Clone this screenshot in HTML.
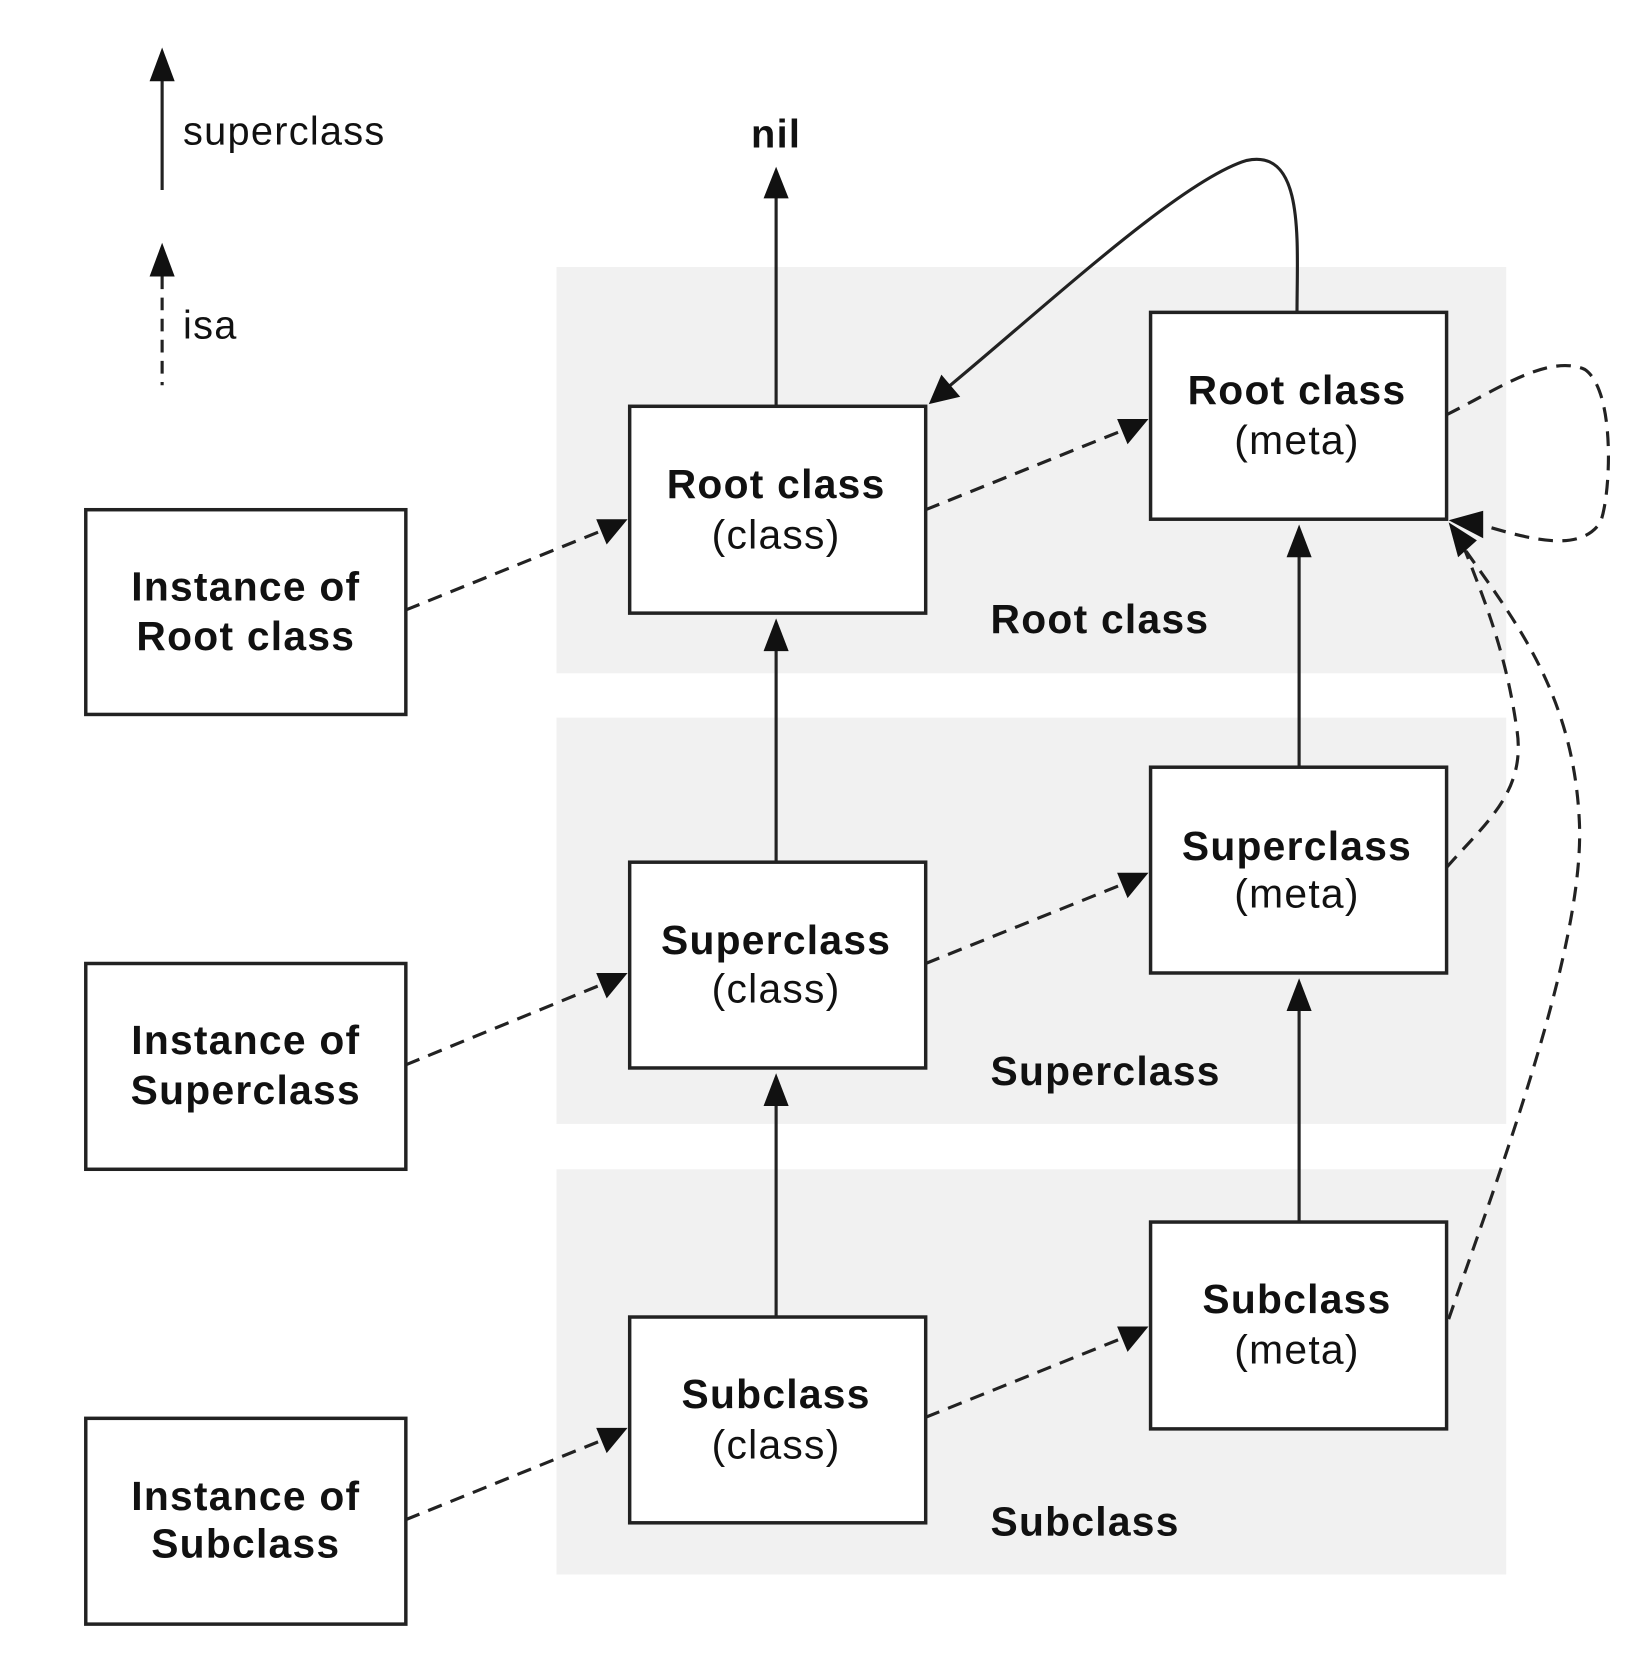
<!DOCTYPE html>
<html><head><meta charset="utf-8"><style>
html,body{margin:0;padding:0;background:#fff;}
svg{display:block;}
text{font-family:"Liberation Sans",Arial,sans-serif;fill:#111;letter-spacing:1.2px;}
.b{font-weight:bold;}
</style></head><body>
<svg width="1638" height="1660" viewBox="0 0 1566 1573" preserveAspectRatio="none" xmlns="http://www.w3.org/2000/svg">
<rect x="532" y="253" width="908" height="385" fill="#f1f1f1"/>
<rect x="532" y="680" width="908" height="385" fill="#f1f1f1"/>
<rect x="532" y="1108" width="908" height="384" fill="#f1f1f1"/>

<g stroke="#222" stroke-width="3" fill="none">
<line x1="155" y1="75" x2="155" y2="180"/>
<line x1="155" y1="262" x2="155" y2="365" stroke-dasharray="12,8"/>
<line x1="742" y1="385" x2="742" y2="185"/>
<line x1="742" y1="817" x2="742" y2="615"/>
<line x1="742" y1="1248" x2="742" y2="1046"/>
<line x1="1242" y1="727" x2="1242" y2="526"/>
<line x1="1242" y1="1158" x2="1242" y2="956"/>
<path d="M1240,296 C1240,230 1248,140 1192,152 C1130,170 1000,290 905,368"/>
<g stroke-dasharray="14,9">
<line x1="388" y1="578" x2="575" y2="503"/>
<line x1="388" y1="1009" x2="575" y2="933"/>
<line x1="388" y1="1440" x2="575" y2="1365"/>
<line x1="885" y1="483" x2="1073" y2="408"/>
<line x1="885" y1="913" x2="1073" y2="838"/>
<line x1="885" y1="1343" x2="1073" y2="1268"/>
<path d="M1383,393 C1430,370 1480,335 1515,350 C1545,370 1540,470 1530,495 C1510,525 1460,510 1415,497"/>
<path d="M1383,822 C1420,780 1460,750 1450,690 C1440,620 1420,570 1400,520"/>
<path d="M1385,1250 C1430,1120 1515,900 1510,780 C1505,660 1450,590 1400,520"/>
</g>
</g>
<g fill="#111">
<polygon points="155,45 143,77 167,77"/>
<polygon points="155,230 143,262 167,262"/>
<polygon points="742,158 730,188 754,188"/>
<polygon points="742,586 730,617 754,617"/>
<polygon points="742,1017 730,1048 754,1048"/>
<polygon points="1242,497 1230,528 1254,528"/>
<polygon points="1242,927 1230,958 1254,958"/>
<polygon points="888,383 900,355 918,376"/>
<polygon points="600,492 570,492 580,516"/>
<polygon points="600,922 570,922 580,946"/>
<polygon points="600,1353 570,1353 580,1377"/>
<polygon points="1098,397 1068,397 1078,421"/>
<polygon points="1098,827 1068,827 1078,851"/>
<polygon points="1098,1257 1068,1257 1078,1281"/>
<polygon points="1385,493 1418,484 1418,510"/>
<polygon points="1385,495 1412,512 1394,528"/>
</g>

<g fill="#fff" stroke="#222" stroke-width="3.3">
<rect x="82" y="483" width="306" height="194"/>
<rect x="82" y="913" width="306" height="195"/>
<rect x="82" y="1344" width="306" height="195"/>
<rect x="602" y="385" width="283" height="196"/>
<rect x="602" y="817" width="283" height="195"/>
<rect x="602" y="1248" width="283" height="195"/>
<rect x="1100" y="296" width="283" height="196"/>
<rect x="1100" y="727" width="283" height="195"/>
<rect x="1100" y="1158" width="283" height="196"/>
</g>

<text x="175" y="137" font-size="38">superclass</text>
<text x="175" y="321" font-size="38">isa</text>
<text x="742" y="140" font-size="38" class="b" text-anchor="middle">nil</text>

<g font-size="39" text-anchor="middle">
<text x="235" y="569" class="b">Instance of</text>
<text x="235" y="616" class="b">Root class</text>
<text x="235" y="999" class="b">Instance of</text>
<text x="235" y="1046" class="b">Superclass</text>
<text x="235" y="1431" class="b">Instance of</text>
<text x="235" y="1476" class="b">Subclass</text>

<text x="742" y="472" class="b">Root class</text>
<text x="742" y="520">(class)</text>
<text x="742" y="904" class="b">Superclass</text>
<text x="742" y="950">(class)</text>
<text x="742" y="1334" class="b">Subclass</text>
<text x="742" y="1382">(class)</text>

<text x="1240" y="383" class="b">Root class</text>
<text x="1240" y="430">(meta)</text>
<text x="1240" y="815" class="b">Superclass</text>
<text x="1240" y="860">(meta)</text>
<text x="1240" y="1244" class="b">Subclass</text>
<text x="1240" y="1292">(meta)</text>
</g>
<g font-size="39">
<text x="947" y="600" class="b">Root class</text>
<text x="947" y="1028" class="b">Superclass</text>
<text x="947" y="1455" class="b">Subclass</text>
</g>
</svg>
</body></html>
